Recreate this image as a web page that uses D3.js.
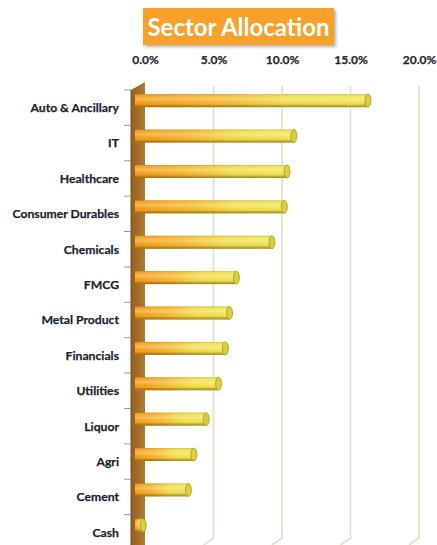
<!DOCTYPE html>
<html>
<head>
<meta charset="utf-8">
<script src="https://cdn.jsdelivr.net/npm/d3@7"></script>
<style>
  html, body { margin: 0; padding: 0; background: #ffffff; }
  svg { display: block; }
</style>
</head>
<body>
<svg id="chart" width="437" height="545"></svg>
<script>
// Sector weights (% of portfolio)
const categories = ["Auto & Ancillary", "IT", "Healthcare", "Consumer Durables", "Chemicals",
  "FMCG", "Metal Product", "Financials", "Utilities", "Liquor", "Agri", "Cement", "Cash"];
const weights = [17.0, 11.6, 11.1, 10.9, 10.0, 7.4, 6.9, 6.6, 6.1, 5.2, 4.3, 3.9, 0.6];
const tickValues = [0, 5, 10, 15, 20];
const titleText = "Sector Allocation";

const svg = d3.select("#chart");
const W = 437, H = 545;

// back-wall value scale and category bands
const x = d3.scaleLinear().domain([0, 20]).range([145, 419]);
const y = d3.scaleBand().domain(categories).range([90, 550]).padding(0);

// 3D depth offset of the cylinders relative to the back wall
const depthX = -10, depthY = -7;
const barH = 13, capRx = 3;

const defs = svg.append("defs");

const lenGrad = defs.append("linearGradient").attr("id", "barLen")
  .attr("x1", 0).attr("x2", 1).attr("y1", 0).attr("y2", 0);
lenGrad.append("stop").attr("offset", "0%").attr("stop-color", "#f39810");
lenGrad.append("stop").attr("offset", "35%").attr("stop-color", "#f5b42a");
lenGrad.append("stop").attr("offset", "65%").attr("stop-color", "#f1db46");
lenGrad.append("stop").attr("offset", "100%").attr("stop-color", "#eee64e");

const shadeGrad = defs.append("linearGradient").attr("id", "barShade")
  .attr("x1", 0).attr("x2", 0).attr("y1", 0).attr("y2", 1);
shadeGrad.append("stop").attr("offset", "0%").attr("stop-color", "#7a5a00").attr("stop-opacity", 0.3);
shadeGrad.append("stop").attr("offset", "15%").attr("stop-color", "#ffffff").attr("stop-opacity", 0.1);
shadeGrad.append("stop").attr("offset", "38%").attr("stop-color", "#ffffff").attr("stop-opacity", 0.3);
shadeGrad.append("stop").attr("offset", "65%").attr("stop-color", "#ffffff").attr("stop-opacity", 0.0);
shadeGrad.append("stop").attr("offset", "85%").attr("stop-color", "#6b4a00").attr("stop-opacity", 0.3);
shadeGrad.append("stop").attr("offset", "100%").attr("stop-color", "#5a3e00").attr("stop-opacity", 0.55);

const wallGrad = defs.append("linearGradient").attr("id", "wall")
  .attr("x1", 0).attr("x2", 1).attr("y1", 0).attr("y2", 0);
wallGrad.append("stop").attr("offset", "0%").attr("stop-color", "#94601f");
wallGrad.append("stop").attr("offset", "100%").attr("stop-color", "#b27a33");

const blur = defs.append("filter").attr("id", "soft").attr("x", "-5%").attr("y", "-20%")
  .attr("width", "110%").attr("height", "140%");
blur.append("feGaussianBlur").attr("stdDeviation", 0.45);

const shadow = defs.append("filter").attr("id", "shadow").attr("x", "-10%").attr("y", "-20%")
  .attr("width", "125%").attr("height", "160%");
shadow.append("feDropShadow").attr("dx", 2).attr("dy", 2).attr("stdDeviation", 1.5)
  .attr("flood-color", "#000").attr("flood-opacity", 0.3);

// Title badge
const tg = svg.append("g");
tg.append("rect").attr("x", 143).attr("y", 8).attr("width", 191).attr("height", 37)
  .attr("fill", "#f7a02a").attr("filter", "url(#shadow)");
tg.append("text").attr("x", 238.5).attr("y", 36)
  .attr("text-anchor", "middle")
  .attr("font-family", "Lato, 'Open Sans', sans-serif")
  .attr("font-weight", 700).attr("font-size", 25)
  .attr("textLength", 182).attr("lengthAdjust", "spacingAndGlyphs")
  .attr("fill", "#ffffff").text(titleText);

// Gridlines on the back wall, bending onto the floor at the bottom
const floorY = 538;
const grid = svg.append("g").attr("filter", "url(#soft)");
grid.selectAll("path").data(tickValues.filter(d => d > 0)).join("path")
  .attr("d", d => `M${x(d)},86 L${x(d)},${floorY} L${x(d) + depthX},${floorY - depthY}`)
  .attr("fill", "none").attr("stroke", "#e0e5cc").attr("stroke-width", 1.8);

// Value axis along the top
const xAxis = d3.axisTop(x).tickValues(tickValues)
  .tickFormat(d => d3.format(".1f")(d) + "%").tickSize(0).tickPadding(0);
const xg = svg.append("g").attr("transform", "translate(0,64)").call(xAxis);
xg.select(".domain").remove();
xg.selectAll("text")
  .attr("font-family", "Lato, 'Open Sans', sans-serif")
  .attr("font-weight", 700).attr("font-size", 12).attr("fill", "#262630")
  .attr("stroke", "#262630").attr("stroke-width", 0.25)
  .attr("dy", 0);

// Side wall
const wallL = x(0) + depthX - 4, wallR = x(0);
svg.append("path")
  .attr("d", `M${wallL},${90 - 0} L${wallR},${82} L${wallR},${H + 5} L${wallL},${H + 12} Z`)
  .attr("fill", "url(#wall)");
svg.append("line").attr("x1", wallL).attr("x2", wallL).attr("y1", 90).attr("y2", H)
  .attr("stroke", "#7d4f17").attr("stroke-width", 1);

// Category axis ticks and labels
const yAxis = d3.axisLeft(y).tickSize(0).tickPadding(0);
const yg = svg.append("g").attr("transform", `translate(${wallL - 12},0)`).call(yAxis);
yg.select(".domain").remove();
yg.selectAll("text")
  .attr("font-family", "Lato, 'Open Sans', sans-serif")
  .attr("font-weight", 700).attr("font-size", 12.2).attr("fill", "#1e1e30")
  .attr("stroke", "#1e1e30").attr("stroke-width", 0.25)
  .attr("dy", "0.36em");
svg.append("g").selectAll("line").data(categories).join("line")
  .attr("x1", wallL - 7).attr("x2", wallL)
  .attr("y1", d => y(d)).attr("y2", d => y(d))
  .attr("stroke", "#9a9a9a").attr("stroke-width", 1);

// Cylinder bars
const rows = categories.map((c, i) => ({ c, v: weights[i] }));
const bars = svg.append("g").attr("filter", "url(#soft)")
  .selectAll("g").data(rows).join("g")
  .attr("transform", d => `translate(0,${y(d.c) + y.bandwidth() / 2 + depthY - barH / 2})`);

const x0 = x(0) + depthX;
bars.append("rect")
  .attr("x", x0).attr("y", 0)
  .attr("width", d => Math.max(0.5, x(d.v) - x(0)))
  .attr("height", barH).attr("fill", "url(#barLen)");
bars.append("rect")
  .attr("x", x0).attr("y", 0)
  .attr("width", d => Math.max(0.5, x(d.v) - x(0)))
  .attr("height", barH).attr("fill", "url(#barShade)");
bars.append("ellipse")
  .attr("cx", d => x(d.v) + depthX).attr("cy", barH / 2)
  .attr("rx", capRx).attr("ry", barH / 2)
  .attr("fill", "#d8cf3c").attr("stroke", "#a89826").attr("stroke-width", 0.8);
</script>
</body>
</html>
